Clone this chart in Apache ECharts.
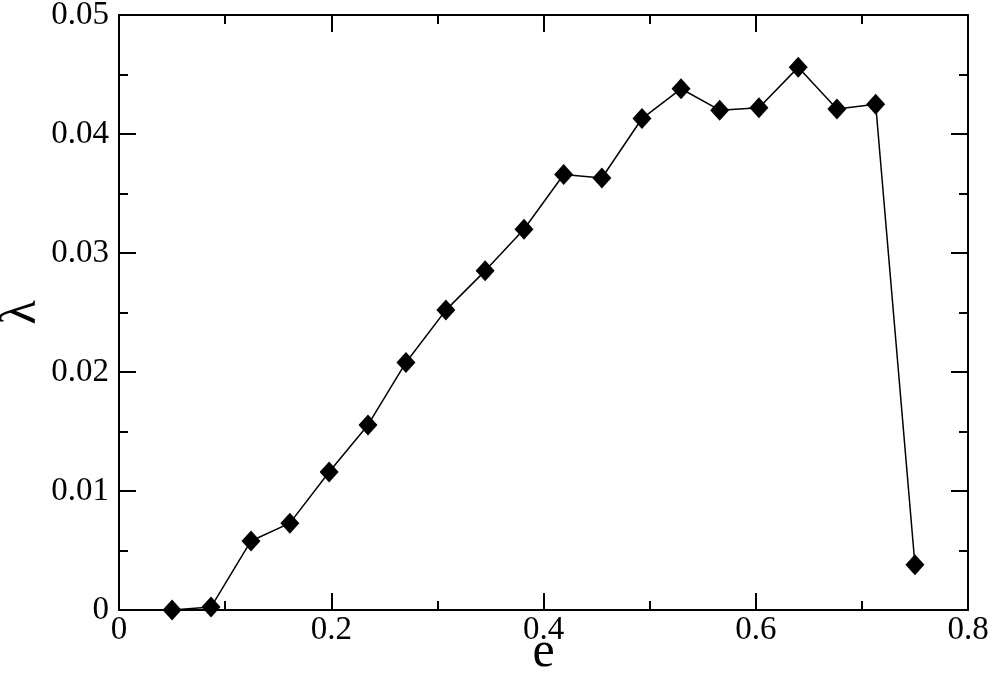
<!DOCTYPE html>
<html style="height: 100%">
<head>
  <meta charset="utf-8">
  <title>lambda vs e</title>
  <style type="text/css">
    body { margin: 0; background: #fff; }
    #container { width: 993px; height: 678px; }
  </style>
</head>
<body>
  <div id="container"></div>
  <script type="text/javascript" src="https://cdn.jsdelivr.net/npm/echarts@6.0.0/dist/echarts.min.js"></script>
  <script type="text/javascript">
    // values
    var eValues = [0.050, 0.0867, 0.1244, 0.161, 0.198, 0.2346, 0.2704, 0.308, 0.345, 0.3816,
                   0.419, 0.455, 0.4928, 0.5296, 0.566, 0.603, 0.640, 0.6765, 0.713, 0.750];
    var lambdaValues = [0.0000, 0.00025, 0.0058, 0.0073, 0.0116, 0.01555, 0.0208, 0.0252, 0.0285, 0.0320,
                        0.0366, 0.0363, 0.0413, 0.0438, 0.0420, 0.0422, 0.0456, 0.0421, 0.0425, 0.0038];
    var xTicks = [0, 0.2, 0.4, 0.6, 0.8];
    var yTicks = [0, 0.01, 0.02, 0.03, 0.04, 0.05];

    var points = eValues.map(function (e, i) { return [e, lambdaValues[i]]; });

    var dom = document.getElementById('container');
    var chart = echarts.init(dom, null, { renderer: 'canvas' });

    var font = "'Liberation Serif', 'DejaVu Serif', serif";
    var axisBase = function (withLabels, margin) {
      return {
        axisLine: { show: true, onZero: false, lineStyle: { color: '#000', width: 2 } },
        axisTick: { show: true, inside: true, length: 17, lineStyle: { color: '#000', width: 2 } },
        minorTick: { show: true, splitNumber: 2, length: 9, lineStyle: { color: '#000', width: 2 } },
        splitLine: { show: false },
        axisLabel: {
          show: withLabels,
          color: '#000',
          fontFamily: font,
          fontSize: 33,
          margin: margin,
          formatter: function (v) { return String(+v.toFixed(3)); }
        }
      };
    };

    var xBottom = Object.assign(axisBase(true, 4), {
      type: 'value', position: 'bottom', min: xTicks[0], max: xTicks[xTicks.length - 1], interval: 0.2,
      name: 'e', nameLocation: 'middle', nameGap: 18, nameMoveOverlap: false,
      nameTextStyle: { color: '#000', fontFamily: font, fontSize: 50 }
    });
    var xTop = Object.assign(axisBase(false, 4), {
      type: 'value', position: 'top', min: xTicks[0], max: xTicks[xTicks.length - 1], interval: 0.2
    });
    var yLeft = Object.assign(axisBase(true, 10), {
      type: 'value', position: 'left', min: yTicks[0], max: yTicks[yTicks.length - 1], interval: 0.01,
      name: 'λ', nameLocation: 'middle', nameGap: 72, nameMoveOverlap: false,
      nameTextStyle: { color: '#000', fontFamily: font, fontSize: 50 }
    });
    var yRight = Object.assign(axisBase(false, 10), {
      type: 'value', position: 'right', min: yTicks[0], max: yTicks[yTicks.length - 1], interval: 0.01
    });

    chart.setOption({
      animation: false,
      backgroundColor: '#fff',
      grid: { left: 119, right: 25, top: 15, bottom: 68, containLabel: false, outerBoundsMode: 'none' },
      xAxis: [xBottom, xTop],
      yAxis: [yLeft, yRight],
      series: [{
        type: 'line',
        xAxisIndex: 0,
        yAxisIndex: 0,
        data: points,
        symbol: 'diamond',
        symbolSize: [19, 21],
        itemStyle: { color: '#000' },
        lineStyle: { color: '#000', width: 1.5 }
      }]
    });
  </script>
</body>
</html>
